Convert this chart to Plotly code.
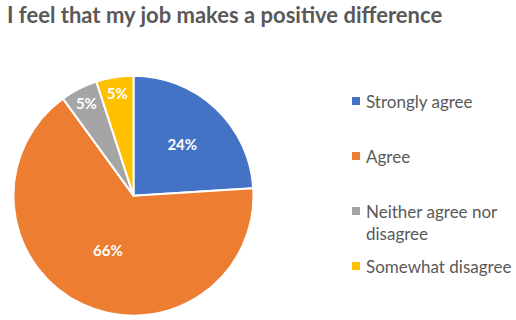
import plotly.graph_objects as go

labels = ["Strongly agree", "Agree", "Neither agree nor disagree", "Somewhat disagree"]
legend_text = ["Strongly agree", "Agree", "Neither agree nor<br>disagree", "Somewhat disagree"]
values = [24, 66, 5, 5]
colors = ["#4472C4", "#ED7D31", "#A5A5A5", "#FFC000"]

W, H = 516, 320

fig = go.Figure(go.Pie(
    labels=labels,
    values=values,
    sort=False,
    direction="clockwise",
    rotation=0,
    marker=dict(colors=colors, line=dict(color="white", width=2)),
    texttemplate="%{percent:.0%}",
    textposition="inside",
    insidetextorientation="horizontal",
    textfont=dict(family="Lato", size=15, color="white", weight="bold"),
    domain=dict(x=[13.5 / W, 253.5 / W], y=[1 - 315.7 / H, 1 - 75.7 / H]),
    showlegend=False,
    hoverinfo="label+percent",
))

# manual legend (symbol aligned with first text line, as in the original)
legend_y = [101, 156, 211, 266]
for txt, col, yy in zip(legend_text, colors, legend_y):
    fig.add_shape(type="rect", xref="paper", yref="paper",
                  x0=352 / W, x1=360 / W, y0=1 - (yy + 4) / H, y1=1 - (yy - 4) / H,
                  fillcolor=col, line=dict(width=0))
    fig.add_annotation(text=txt, xref="paper", yref="paper",
                       x=364 / W, y=1 - (yy - 12) / H, xanchor="left", yanchor="top",
                       align="left", showarrow=False,
                       font=dict(family="Lato", size=17, color="#595959"))

fig.update_layout(
    width=W, height=H,
    margin=dict(l=0, r=0, t=0, b=0),
    paper_bgcolor="white",
    title=dict(text="<b>I feel that my job makes a positive difference</b>",
               x=7 / W, xanchor="left", y=1 - 8 / H, yanchor="top",
               font=dict(family="Lato", size=22, color="#595959")),
    uniformtext=dict(minsize=15, mode="show"),
)

fig.write_html("out.html")
